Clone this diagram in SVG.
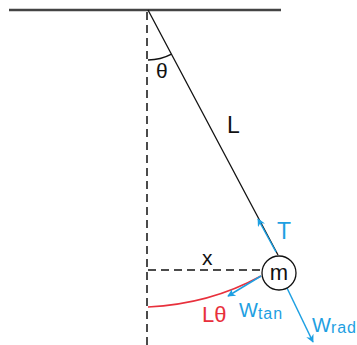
<svg xmlns="http://www.w3.org/2000/svg" width="357" height="345" viewBox="0 0 357 345">
  <style>
    .t { font-family: "Liberation Sans", Arial, sans-serif; }
    .blk { fill: #111; }
    .blu { fill: #1ea0e2; }
    .red { fill: #e8303c; }
    .dash { stroke: #111; stroke-width: 1.5; fill: none; }
    .force { stroke: #1ea0e2; stroke-width: 1.5; fill: none; marker-end: url(#ah); }
  </style>
  <defs>
    <marker id="ah" viewBox="0 0 10 10" refX="9" refY="5" markerWidth="9" markerHeight="8" markerUnits="userSpaceOnUse" orient="auto">
      <path d="M0,0 L10,5 L0,10 L3,5 Z" fill="#1ea0e2"/>
    </marker>
  </defs>
  <rect width="357" height="345" fill="#fff"/>

  <g id="ceiling">
    <line x1="9" y1="10" x2="281" y2="10" stroke="#444" stroke-width="2.5"/>
  </g>

  <g id="reference-lines">
    <line class="dash" x1="147" y1="12" x2="147" y2="345" stroke-dasharray="8,5"/>
    <line class="dash" x1="148" y1="270" x2="261" y2="270" stroke-dasharray="8,5"/>
    <path class="dash" d="M148,60 A50,50 0 0 0 171.5,54.2" stroke-width="1.2"/>
  </g>

  <g id="connectors">
    <line id="string" x1="148" y1="10" x2="278" y2="255" stroke="#111" stroke-width="1.3"/>
    <path id="arc-L-theta" d="M148,307 Q210,304 261,276" stroke="#e8303c" stroke-width="1.5" fill="none"/>
    <line id="force-T" class="force" x1="276" y1="252" x2="258" y2="219"/>
    <line id="force-Wtan" class="force" x1="261" y1="276" x2="228" y2="296"/>
    <line id="force-Wrad" class="force" x1="287" y1="288" x2="313" y2="342"/>
  </g>

  <g id="mass">
    <circle cx="279" cy="273" r="17" fill="#fff" stroke="#111" stroke-width="1.3"/>
    <text class="t blk" x="279" y="280" font-size="22" text-anchor="middle">m</text>
  </g>

  <g id="labels">
    <text class="t blk" x="156" y="78" font-size="21">θ</text>
    <text class="t blk" x="227" y="133" font-size="23">L</text>
    <text class="t blu" x="277" y="239" font-size="23">T</text>
    <text class="t blk" x="202" y="265" font-size="21">x</text>
    <text class="t red" x="202" y="322" font-size="22">Lθ</text>
    <text class="t blu" x="239" y="317" font-size="20">W<tspan font-size="16" letter-spacing="1" dy="2">tan</tspan></text>
    <text class="t blu" x="312" y="332" font-size="20">W<tspan font-size="16" letter-spacing="1" dy="1">rad</tspan></text>
  </g>
</svg>
